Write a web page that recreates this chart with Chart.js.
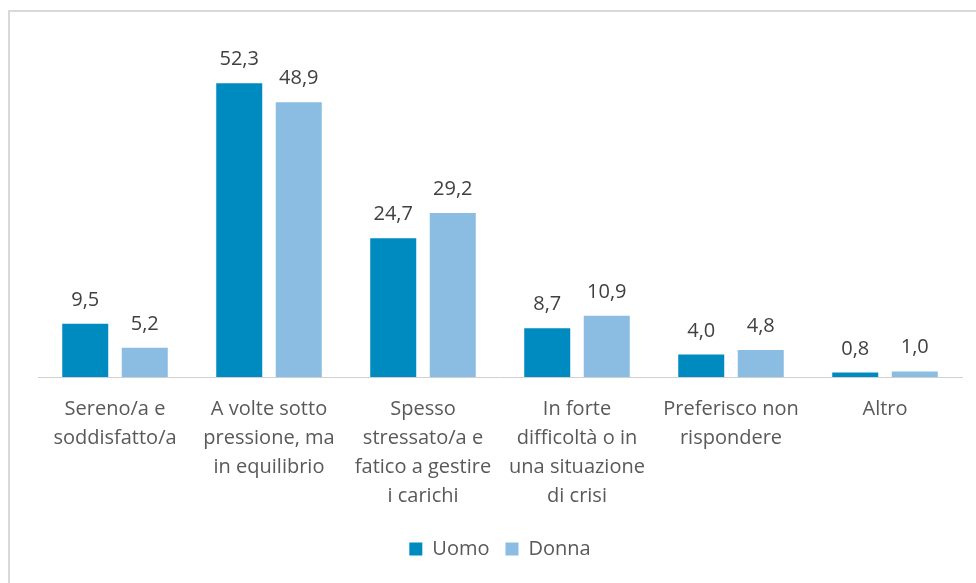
<!DOCTYPE html>
<html>
<head>
<meta charset="utf-8">
<script src="https://cdn.jsdelivr.net/npm/chart.js@4.4.1/dist/chart.umd.min.js"></script>
<style>
  html, body { margin: 0; padding: 0; background: #fff; overflow: hidden; }
  #wrap { position: relative; width: 976px; height: 583px; }
  #frame { position: absolute; left: 8px; top: 10px; width: 1100px; height: 700px;
           border: 2px solid #d9d9d9; pointer-events: none; }
</style>
</head>
<body>
<div id="wrap">
  <canvas id="myChart" width="976" height="583"></canvas>
  <div id="frame"></div>
</div>
<script>
// categorie (etichette su più righe)
var categorie = [
  ['Sereno/a e', 'soddisfatto/a'],
  ['A volte sotto', 'pressione, ma', 'in equilibrio'],
  ['Spesso', 'stressato/a e', 'fatico a gestire', 'i carichi'],
  ['In forte', 'difficoltà o in', 'una situazione', 'di crisi'],
  ['Preferisco non', 'rispondere'],
  ['Altro']
];
var uomo = [9.5, 52.3, 24.7, 8.7, 4.0, 0.8];
var donna = [5.2, 48.9, 29.2, 10.9, 4.8, 1.0];

var testo = '#595959';
var font = '"Open Sans", Lato, sans-serif';

// etichette dei valori sopra le barre
var etichette = {
  id: 'etichette',
  afterDatasetsDraw(chart) {
    var ctx = chart.ctx;
    ctx.save();
    ctx.font = '20px ' + font;
    ctx.fillStyle = '#404040';
    ctx.textAlign = 'center';
    ctx.textBaseline = 'alphabetic';
    chart.data.datasets.forEach((ds, i) => {
      chart.getDatasetMeta(i).data.forEach((bar, j) => {
        var v = ds.data[j].toFixed(1).replace('.', ',');
        ctx.fillText(v, bar.x, bar.y - 18);
      });
    });
    ctx.restore();
  }
};

var ctx = document.getElementById('myChart');
var myChart = new Chart(ctx, {
  type: 'bar',
  data: {
    labels: categorie,
    datasets: [
      { label: 'Uomo', data: uomo, backgroundColor: '#008bc0' },
      { label: 'Donna', data: donna, backgroundColor: '#8abde1' }
    ]
  },
  options: {
    responsive: false,
    animation: false,
    layout: { padding: { left: 38, right: 14, top: 40, bottom: 14 } },
    categoryPercentage: 0.773,
    barPercentage: 0.773,
    plugins: {
      legend: {
        position: 'bottom',
        labels: {
          boxWidth: 13,
          boxHeight: 13,
          padding: 16,
          color: testo,
          font: { family: font, size: 20 }
        }
      },
      tooltip: { enabled: false }
    },
    scales: {
      y: { display: false, min: 0, max: 60 },
      x: {
        grid: { display: false, drawTicks: false },
        border: { display: true, color: '#d0d0d0', width: 1 },
        ticks: {
          color: testo,
          padding: 18,
          maxRotation: 0,
          autoSkip: false,
          font: { family: font, size: 20, lineHeight: 1.45 }
        },
        afterFit: (scale) => { scale.height = 146; }
      }
    }
  },
  plugins: [etichette]
});
</script>
</body>
</html>
